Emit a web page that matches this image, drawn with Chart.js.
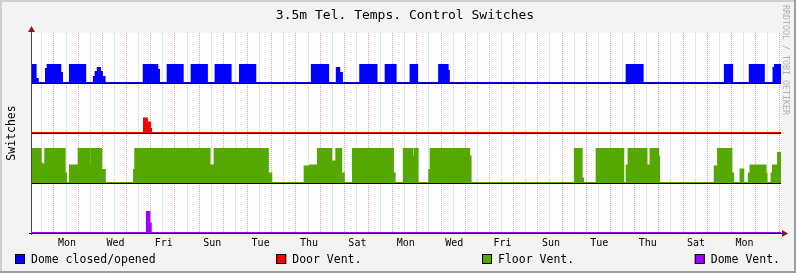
<!DOCTYPE html>
<html>
<head>
<meta charset="utf-8">
<script src="https://cdn.jsdelivr.net/npm/chart.js@4"></script>
<style>
  body { margin: 0; background: #f3f3f3; }
  canvas { display: block; }
</style>
</head>
<body>
<canvas id="myChart" width="796" height="273"></canvas>
<script>
// time axis is in days, day 0 = first Monday (midnight at integers)
const dayNames = ['Mon', 'Tue', 'Wed', 'Thu', 'Fri', 'Sat', 'Sun'];
const seriesLabels = ['Dome closed/opened', 'Door Vent.', 'Floor Vent.', 'Dome Vent.'];

const domeT = [-0.95, -0.76, -0.67, -0.33, -0.26, 0.26, 0.33, 0.66, 1.29, 1.65, 1.72, 1.81, 1.90, 1.98, 2.09,
    3.71, 4.27, 4.34, 4.70, 5.32, 5.69, 6.32, 6.68, 7.30, 7.69, 8.32, 10.66, 11.33, 11.69, 11.79, 11.90,
    12.66, 13.33, 13.71, 14.12, 14.74, 15.01, 15.92, 16.27, 16.32, 23.67, 24.33, 27.73, 28.03, 28.76, 29.34,
    29.74, 29.80, 30.05];
const domeV = [0.36, 0.08, 0, 0.28, 0.36, 0.2, 0, 0.36, 0, 0.12, 0.22, 0.30, 0.22, 0.12, 0,
    0.36, 0.26, 0, 0.36, 0, 0.36, 0, 0.36, 0, 0.36, 0, 0.36, 0, 0.30, 0.20, 0,
    0.36, 0, 0.36, 0, 0.36, 0, 0.36, 0.24, 0, 0.36, 0, 0.36, 0, 0.36, 0,
    0.30, 0.36, 0.36];

const doorT = [-0.95, 3.72, 3.84, 3.97, 4.01, 30.05];
const doorV = [0, 0.29, 0.21, 0.08, 0, 0];

const floorT = [-0.95, -0.55, -0.50, -0.45, -0.36, 0.44, 0.50, 0.66, 1.02, 1.48, 1.57, 1.95, 2.10,
    3.31, 3.36, 5.66, 5.72, 6.43, 6.50, 6.64, 7.47, 7.53, 8.84, 8.98, 10.36, 10.57, 10.91, 11.46, 11.67, 11.87, 11.98,
    12.36, 14.01, 14.08, 14.46, 14.82, 14.92, 15.03, 15.51, 15.57, 17.16, 17.22, 21.53, 21.81, 21.87,
    22.43, 23.53, 23.67, 23.75, 24.49, 24.66, 24.97, 25.01, 27.31, 27.45, 27.55, 27.63, 28.00, 28.07,
    28.38, 28.49, 28.72, 28.79, 29.41, 29.45, 29.66, 29.72, 29.93, 30.05];
const floorV = [0.68, 0.39, 0, 0.37, 0.68, 0.19, 0, 0.35, 0.68, 0.35, 0.68, 0.26, 0,
    0.26, 0.68, 0.5, 0.68, 0.19, 0.35, 0.68, 0.5, 0.68, 0.19, 0, 0.33, 0.35, 0.68, 0.43, 0.68, 0.19, 0,
    0.68, 0.19, 0, 0.68, 0.53, 0.68, 0, 0.26, 0.68, 0.53, 0, 0.68, 0.09, 0,
    0.68, 0, 0.35, 0.68, 0.35, 0.68, 0.53, 0, 0.33, 0.68, 0.35, 0.68, 0.19, 0,
    0.27, 0, 0.19, 0.35, 0.19, 0, 0.19, 0.35, 0.60, 0.60];

const ventT = [-0.95, 3.84, 3.94, 4.00, 30.05];
const ventV = [0, 0.42, 0.19, 0, 0];

// each series sits on its own band
const bands = [3, 2, 1, 0];
const colors = ['#0000ff', '#ff0000', '#55a800', '#a000ff'];
const FONT = 'DejaVu Sans Mono';

function band(ts, vs, i) {
    return {
        label: seriesLabels[i],
        data: ts.map((t, k) => ({ x: t, y: bands[i] + vs[k] })),
        borderColor: colors[i],
        backgroundColor: colors[i],
        borderWidth: 2,
        stepped: true,
        pointRadius: 0,
        fill: { value: bands[i] }
    };
}

const gridSteps = [];
for (let v = -0.5; v <= 30; v += 0.5) gridSteps.push(v);

const decor = {
    id: 'decor',
    beforeDraw(chart) {
        const { ctx, chartArea: a, width: w, height: h } = chart;
        ctx.save();
        ctx.fillStyle = '#f3f3f3';
        ctx.fillRect(0, 0, w, h);
        ctx.fillStyle = '#cfcfcf';
        ctx.fillRect(0, 0, w, 2);
        ctx.fillRect(0, 0, 2, h);
        ctx.fillStyle = '#9e9e9e';
        ctx.fillRect(0, h - 2, w, 2);
        ctx.fillRect(w - 2, 0, 2, h);
        ctx.fillStyle = '#ffffff';
        ctx.fillRect(a.left, a.top, a.right - a.left, a.bottom - a.top);
        ctx.restore();
    },
    afterDraw(chart) {
        const { ctx, chartArea: a } = chart;
        const ys = chart.scales.y;
        ctx.save();
        // black base line under every band
        ctx.fillStyle = '#000';
        bands.forEach(b => {
            if (b > 0) ctx.fillRect(a.left, Math.round(ys.getPixelForValue(b)), a.right - a.left, 1);
        });
        // axes
        ctx.strokeStyle = '#000';
        ctx.lineWidth = 1;
        ctx.beginPath();
        ctx.moveTo(a.left - 2, a.bottom + 0.5);
        ctx.lineTo(a.right + 3, a.bottom + 0.5);
        ctx.stroke();
        ctx.strokeStyle = '#4d4040';
        ctx.beginPath();
        ctx.moveTo(a.left + 0.5, a.bottom + 2);
        ctx.lineTo(a.left + 0.5, a.top - 3);
        ctx.stroke();
        // arrows
        ctx.fillStyle = '#8b1a1a';
        ctx.beginPath();
        ctx.moveTo(a.left + 0.5, a.top - 7);
        ctx.lineTo(a.left - 3, a.top - 1);
        ctx.lineTo(a.left + 4, a.top - 1);
        ctx.closePath();
        ctx.fill();
        ctx.beginPath();
        ctx.moveTo(a.right + 7, a.bottom + 0.5);
        ctx.lineTo(a.right + 1, a.bottom - 3);
        ctx.lineTo(a.right + 1, a.bottom + 4);
        ctx.closePath();
        ctx.fill();

        // title
        ctx.fillStyle = '#000';
        ctx.font = '13px "' + FONT + '"';
        ctx.textAlign = 'center';
        ctx.textBaseline = 'alphabetic';
        ctx.fillText('3.5m Tel. Temps. Control Switches', 405, 18.5);

        // y axis title
        ctx.save();
        ctx.translate(15, (a.top + a.bottom) / 2);
        ctx.rotate(-Math.PI / 2);
        ctx.font = '11.5px "' + FONT + '"';
        ctx.fillText('Switches', 0, 0);
        ctx.restore();

        // watermark
        ctx.save();
        ctx.translate(783, 60);
        ctx.rotate(Math.PI / 2);
        ctx.fillStyle = '#b0b0b0';
        ctx.font = '8.3px "' + FONT + '"';
        ctx.fillText('RRDTOOL / TOBI OETIKER', 0, 0);
        ctx.restore();

        // legend, justified across the width
        ctx.font = '11.5px "' + FONT + '"';
        ctx.textAlign = 'left';
        const sets = chart.data.datasets;
        const widths = sets.map(d => 16 + ctx.measureText(d.label).width);
        const left = 15, right = 780;
        const gap = (right - left - widths.reduce((s, v) => s + v, 0)) / (sets.length - 1);
        let x = left;
        sets.forEach((d, i) => {
            ctx.fillStyle = d.backgroundColor;
            ctx.fillRect(x, 254, 10, 10);
            ctx.strokeStyle = '#000';
            ctx.strokeRect(x + 0.5, 254.5, 9, 9);
            ctx.fillStyle = '#000';
            ctx.fillText(d.label, x + 16, 263);
            x += widths[i] + gap;
        });
        ctx.restore();
    }
};

const ctx = document.getElementById('myChart').getContext('2d');

const myChart = new Chart(ctx, {
    type: 'line',
    data: {
        datasets: [
            band(domeT, domeV, 0),
            band(doorT, doorV, 1),
            band(floorT, floorV, 2),
            band(ventT, ventV, 3)
        ]
    },
    options: {
        responsive: false,
        animation: false,
        layout: { padding: { left: 31, right: 15, top: 33, bottom: 0 } },
        plugins: {
            legend: { display: false },
            title: { display: false },
            tooltip: { enabled: false }
        },
        scales: {
            x: {
                type: 'linear',
                min: -0.95,
                max: 30.05,
                afterBuildTicks: s => { s.ticks = gridSteps.map(v => ({ value: v })); },
                afterFit: s => { s.height = 40; },
                border: { display: false, dash: [1, 1] },
                grid: {
                    drawTicks: false,
                    color: c => Number.isInteger(c.tick.value) ? 'rgba(222,80,80,0.55)' : 'rgba(150,150,150,0.45)'
                },
                ticks: {
                    autoSkip: false,
                    maxRotation: 0,
                    padding: 4,
                    labelOffset: 1,
                    color: '#000',
                    font: { family: FONT, size: 10 },
                    callback: v => {
                        const n = v - 0.5;
                        return (Number.isInteger(n) && n >= 0 && n % 2 === 0) ? dayNames[n % 7] : '';
                    }
                }
            },
            y: {
                min: 0,
                max: 4,
                afterFit: s => { s.width = 0; },
                border: { display: false },
                ticks: { display: false, stepSize: 1 },
                grid: { display: false }
            }
        }
    },
    plugins: [decor]
});
</script>
</body>
</html>
